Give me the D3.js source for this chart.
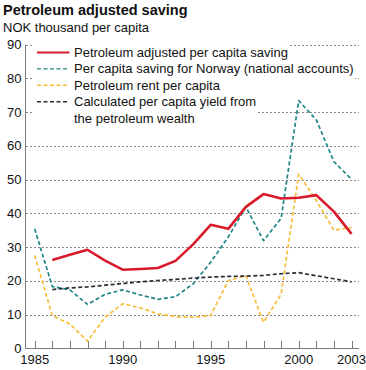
<!DOCTYPE html>
<html>
<head>
<meta charset="utf-8">
<script src="https://cdn.jsdelivr.net/npm/d3@7"></script>
<style>
  body { margin: 0; background: #fff; }
  svg { font-family: "Liberation Sans", Arial, sans-serif; display: block; }
</style>
</head>
<body>
<div id="chart"></div>
<script>
// data
const years = d3.range(1985, 2004);
const adjustedSaving = [null, 26.2, 27.7, 29.2, 26.0, 23.3, 23.5, 23.8, 25.9, 30.8, 36.6, 35.4, 41.9, 45.7, 44.4, 44.6, 45.4, 40.5, 33.9];
const nationalSaving = [35.4, 18.3, 17.3, 13.0, 16.0, 17.3, 15.8, 14.5, 15.3, 19.1, 25.5, 33.0, 41.9, 31.9, 38.5, 73.4, 67.7, 55.3, 50.1];
const petroleumRent = [27.5, 9.7, 7.2, 2.1, 9.2, 13.2, 12.0, 10.2, 9.4, 9.2, 9.7, 20.1, 21.5, 7.7, 16.0, 51.6, 43.8, 35.0, 35.8];
const wealthYield = [null, 17.4, 17.9, 18.2, 18.7, 19.2, 19.7, 20.1, 20.4, 20.8, 21.1, 21.3, 21.4, 21.6, 22.1, 22.4, 21.5, 20.6, 19.7];
const yTicks = [0, 10, 20, 30, 40, 50, 60, 70, 80, 90];
const xLabels = [1985, 1990, 1995, 2000, 2003];

const series = [
  { name: ['Petroleum adjusted per capita saving'], values: adjustedSaving, color: '#d91a2a', width: 2.6, dash: null },
  { name: ['Per capita saving for Norway (national accounts)'], values: nationalSaving, color: '#1f8585', width: 1.7, dash: '4,2.5' },
  { name: ['Petroleum rent per capita'], values: petroleumRent, color: '#f7bd3a', width: 1.7, dash: '4,2.5' },
  { name: ['Calculated per capita yield from', 'the petroleum wealth'], values: wealthYield, color: '#2b2d3a', width: 1.7, dash: '4,2.5' }
];

const width = 366;
const height = 370;

const $svg = d3.select('#chart').append('svg')
  .attr('width', width)
  .attr('height', height);

// scales
const scaleX = d3.scaleLinear().domain([1985, 2003]).range([34.7, 351.5]);
const scaleY = d3.scaleLinear().domain([0, 90]).range([348.3, 44.6]);

// titles
$svg.append('text')
  .attr('x', 3).attr('y', 14.5)
  .attr('font-size', 14.5).attr('font-weight', 'bold')
  .attr('fill', '#111')
  .text('Petroleum adjusted saving');

$svg.append('text')
  .attr('x', 3).attr('y', 32)
  .attr('font-size', 13)
  .attr('fill', '#111')
  .text('NOK thousand per capita');

// grid
$svg.append('g').attr('class', 'g-grid')
  .selectAll('line')
  .data(yTicks.filter(d => d > 0))
  .join('line')
  .attr('x1', 26).attr('x2', 359)
  .attr('y1', d => Math.round(scaleY(d)) + 0.5)
  .attr('y2', d => Math.round(scaleY(d)) + 0.5)
  .attr('stroke', '#8a8a8a')
  .attr('stroke-width', 1)
  .attr('stroke-dasharray', '2,2');

// y labels
$svg.append('g').attr('class', 'g-ylabels')
  .selectAll('text')
  .data(yTicks)
  .join('text')
  .attr('x', 21.5)
  .attr('y', d => scaleY(d) + 4.5)
  .attr('text-anchor', 'end')
  .attr('font-size', 13)
  .attr('fill', '#111')
  .text(d => d);

// axes
const axisColor = '#7a7a7a';
$svg.append('line')
  .attr('x1', 25.5).attr('x2', 25.5)
  .attr('y1', scaleY(90)).attr('y2', 348.5)
  .attr('stroke', axisColor);

$svg.append('line')
  .attr('x1', 25.5).attr('x2', 359)
  .attr('y1', 348.5).attr('y2', 348.5)
  .attr('stroke', axisColor);

$svg.append('g').attr('class', 'g-xticks')
  .selectAll('line')
  .data(years)
  .join('line')
  .attr('x1', d => Math.round(scaleX(d)) + 0.5)
  .attr('x2', d => Math.round(scaleX(d)) + 0.5)
  .attr('y1', 341).attr('y2', 348)
  .attr('stroke', axisColor);

$svg.append('g').attr('class', 'g-xlabels')
  .selectAll('text')
  .data(xLabels)
  .join('text')
  .attr('x', d => scaleX(d))
  .attr('y', 364)
  .attr('text-anchor', 'middle')
  .attr('font-size', 13)
  .attr('fill', '#111')
  .text(d => d);

// lines
const line = d3.line()
  .defined(d => d[1] != null)
  .x(d => scaleX(d[0]))
  .y(d => scaleY(d[1]));

const $vis = $svg.append('g').attr('class', 'g-vis');
// draw back to front: yellow, teal, black, red
[2, 1, 3, 0].forEach(i => {
  const s = series[i];
  $vis.append('path')
    .datum(years.map((y, j) => [y, s.values[j]]))
    .attr('d', line)
    .attr('fill', 'none')
    .attr('stroke', s.color)
    .attr('stroke-width', s.width)
    .attr('stroke-linejoin', 'round')
    .attr('stroke-dasharray', s.dash);
});

// legend
const rowH = 16.4;
const $legend = $svg.append('g').attr('class', 'g-legend');
let row = 0;
series.forEach(s => {
  const y0 = 52.5 + row * rowH;
  const $item = $legend.append('g');
  const $bg = $item.append('rect').attr('fill', '#fff');
  const $t = $item.append('text')
    .attr('font-size', 13)
    .attr('fill', '#111');
  s.name.forEach((n, k) => {
    $t.append('tspan')
      .attr('x', 74)
      .attr('y', y0 + k * rowH + 4.5)
      .text(n);
  });
  const bb = $t.node().getBBox();
  $bg.attr('x', 33).attr('y', y0 - 8)
    .attr('width', bb.x + bb.width + 1 - 33)
    .attr('height', s.name.length * rowH + 2);
  $item.append('line')
    .attr('x1', 37).attr('x2', 69.5)
    .attr('y1', y0).attr('y2', y0)
    .attr('stroke', s.color)
    .attr('stroke-width', s.dash ? 1.4 : 2)
    .attr('stroke-dasharray', s.dash);
  row += s.name.length;
});
</script>
</body>
</html>
